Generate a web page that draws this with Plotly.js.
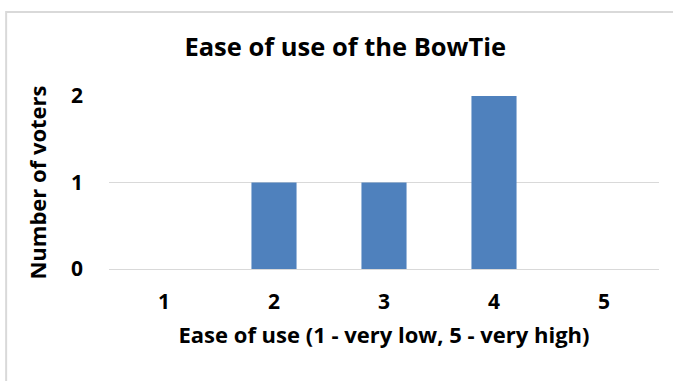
<!DOCTYPE html>
<html>
<head>
<meta charset="utf-8">
<script src="https://cdn.plot.ly/plotly-3.0.1.min.js"></script>
<style>
  html, body { margin: 0; padding: 0; background: #fff; }
  #chart { width: 673px; height: 381px; }
</style>
</head>
<body>
<div id="chart"></div>
<script>
// Ratings on the 1-5 scale and how many voters chose each
const ratings = ['1', '2', '3', '4', '5'];
const voters = [0, 1, 1, 2, 0];
const yTicks = [0, 1, 2];

const font = '"Open Sans", "Noto Sans", sans-serif';

const trace = {
  type: 'bar',
  x: ratings,
  y: voters,
  marker: { color: '#4f81bd' },
  width: 0.41,
  hoverinfo: 'x+y'
};

const layout = {
  width: 673,
  height: 381,
  margin: { l: 109, r: 14, t: 96, b: 112 },
  paper_bgcolor: '#ffffff',
  plot_bgcolor: '#ffffff',
  showlegend: false,
  title: {
    text: '<b>Ease of use of the BowTie</b>',
    font: { family: font, size: 25.5, color: '#000000' },
    x: 0.513, xanchor: 'center',
    y: 0.877, yanchor: 'middle'
  },
  xaxis: {
    type: 'category',
    showgrid: false,
    showline: false,
    zeroline: false,
    ticks: '',
    ticklabelstandoff: 18,
    tickfont: { family: font, size: 21, color: '#000000', weight: 'bold' },
    title: {
      text: '<b>Ease of use (1 - very low, 5 - very high)</b>',
      font: { family: font, size: 22, color: '#000000' },
      standoff: 13
    }
  },
  yaxis: {
    range: [0, 2],
    tickvals: yTicks,
    ticktext: yTicks.map(String),
    showgrid: true,
    gridcolor: '#d9d9d9',
    gridwidth: 1,
    zeroline: true,
    zerolinecolor: '#d9d9d9',
    zerolinewidth: 1,
    showline: false,
    ticks: '',
    ticklabelstandoff: 25,
    tickfont: { family: font, size: 21, color: '#000000', weight: 'bold' },
    title: {
      text: '<b>Number of voters</b>',
      font: { family: font, size: 22, color: '#000000' },
      standoff: 18
    }
  },
  shapes: [{
    // frame around the chart
    type: 'rect',
    xref: 'paper', yref: 'paper',
    x0: -0.187, x1: 1.2,
    y0: -0.8, y1: 1.486,
    line: { color: '#d9d9d9', width: 2 },
    fillcolor: 'rgba(0,0,0,0)',
    layer: 'below'
  }]
};

Plotly.newPlot('chart', [trace], layout, { displayModeBar: false, staticPlot: true });
</script>
</body>
</html>
